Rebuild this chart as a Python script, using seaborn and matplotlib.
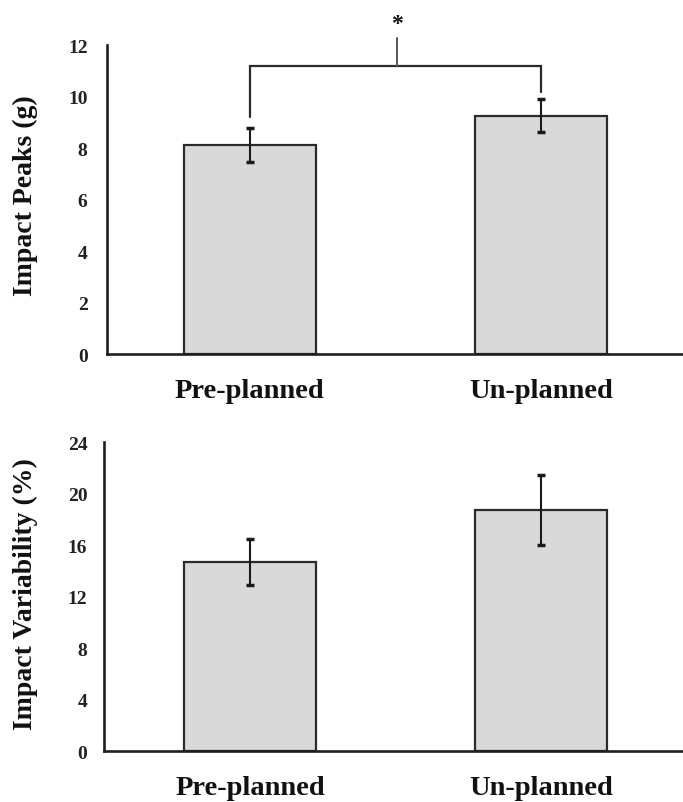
import matplotlib
matplotlib.use("Agg")
import matplotlib.pyplot as plt
import seaborn as sns
import pandas as pd
import numpy as np

categories = ["Pre-planned", "Un-planned"]
peaks_mean = [8.12, 9.25]
peaks_err = [0.66, 0.64]
var_mean = [14.7, 18.7]
var_err = [1.8, 2.7]
peaks_ticks = [0, 2, 4, 6, 8, 10, 12]
var_ticks = [0, 4, 8, 12, 16, 20, 24]

sns.set_theme(style="white")
plt.rcParams["font.family"] = ["Liberation Serif", "DejaVu Serif"]
plt.rcParams["font.weight"] = "bold"

fig = plt.figure(figsize=(6.83, 8.03), dpi=100)
ax1 = fig.add_axes([0.1567, 0.5579, 0.8433, 0.3848])
ax2 = fig.add_axes([0.1523, 0.0635, 0.8477, 0.3848])

BAR_FILL = "#d9d9d9"
EDGE = "#2b2b2b"


def draw(ax, means, errs, ticks, ylabel, xlim_left, ylab_x, ylab_y, ypad):
    df = pd.DataFrame({"cat": categories, "val": means})
    sns.barplot(data=df, x="cat", y="val", ax=ax, color=BAR_FILL,
                edgecolor=EDGE, linewidth=1.6, width=0.455, errorbar=None,
                saturation=1)
    ax.errorbar(np.arange(len(means)), means, yerr=errs, fmt="none",
                ecolor="#1a1a1a", elinewidth=1.5, capsize=3, capthick=2.5)
    ax.set_xlim(xlim_left, 1.488)
    ax.set_ylim(ticks[0], ticks[-1])
    ax.set_yticks(ticks)
    ax.set_yticklabels([str(t) for t in ticks], fontsize=14,
                       fontweight="bold", color="#222222")
    ax.set_xlabel("")
    ax.set_ylabel(ylabel, fontsize=20, fontweight="bold", color="#111111")
    ax.yaxis.set_label_coords(ylab_x, ylab_y)
    ax.tick_params(axis="y", length=0, pad=ypad)
    ax.tick_params(axis="x", length=0, pad=17, labelsize=20.5)
    for lab in ax.get_xticklabels():
        lab.set_fontweight("bold")
        lab.set_color("#111111")
    for s in ["top", "right"]:
        ax.spines[s].set_visible(False)
    for s in ["left", "bottom"]:
        ax.spines[s].set_linewidth(1.9)
        ax.spines[s].set_color("#1f1f1f")
    ax.grid(False)


draw(ax1, peaks_mean, peaks_err, peaks_ticks, "Impact Peaks (g)", -0.491,
     -0.12, 0.515, 14)
draw(ax2, var_mean, var_err, var_ticks, "Impact Variability (%)", -0.502,
     -0.114, 0.512, 12)

# significance bracket on the top panel
tops = [m + e for m, e in zip(peaks_mean, peaks_err)]
bracket_y = 11.18
leg_bottoms = [tops[0] + 0.42, tops[1] + 0.3]
ax1.plot([0, 0, 1, 1], [leg_bottoms[0], bracket_y, bracket_y, leg_bottoms[1]],
         color="#2b2b2b", lw=1.6, clip_on=False, solid_joinstyle="miter")
ax1.plot([0.506, 0.506], [bracket_y, 12.27], color="#555555", lw=1.4,
         clip_on=False)
ax1.text(0.506, 12.85, "*", ha="center", va="center", fontsize=17,
         fontweight="bold", color="#111111", clip_on=False)

fig.savefig("out.png", dpi=100)
